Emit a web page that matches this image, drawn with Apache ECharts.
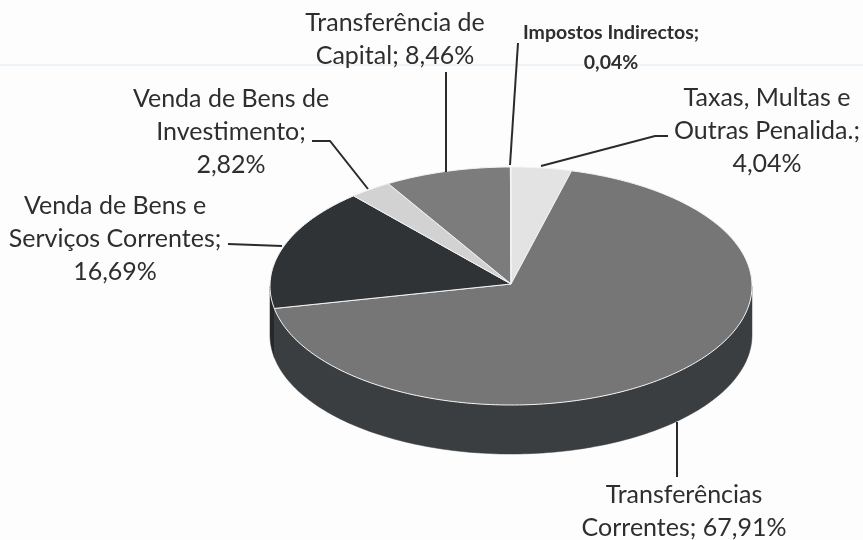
<!DOCTYPE html>
<html><head><meta charset="utf-8">
<style>html,body{margin:0;padding:0;background:#fff}#c{width:863px;height:540px}</style>
<script src="https://cdn.jsdelivr.net/npm/echarts@6/dist/echarts.min.js"></script>
</head><body><div id="c"></div>
<script>
const categories = ['Taxas, Multas e\nOutras Penalida.', 'Transferências\nCorrentes', 'Venda de Bens e\nServiços Correntes', 'Venda de Bens de\nInvestimento', 'Transferência de\nCapital', 'Impostos Indirectos'];
const values = [4.04, 67.91, 16.69, 2.82, 8.46, 0.04];
const valueLabels = ['4,04%', '67,91%', '16,69%', '2,82%', '8,46%', '0,04%'];
const labelBreaks = ['\n', ' ', '\n', '\n', ' ', '\n'];

const topColors = ['#e3e3e3', '#767676', '#2f3336', '#d2d2d2', '#7c7c7c', '#e8e8e8'];
const sideColors = ['#9a9a9a', '#3b3e40', '#26292b', '#8a8a8a', '#4a4a4a', '#999999'];
const PIE = { cx: 511, cy: 286, rx: 241, ry: 119, depth: 49 };
const labelPos = [[767, 131], [684, 511], [115, 239], [231, 132], [395, 39], [611, 48]];
const labelSize = [25, 25, 25, 25, 25, 19.5];
const leaders = [
  [[541, 166], [655, 136], [668, 136]],
  [[677, 422], [677, 477]],
  [[228, 244], [282, 246]],
  [[312, 141], [330, 141], [368, 189]],
  [[446, 72], [446, 172]],
  [[518, 43], [510, 165]]
];

const total = values.reduce((a, b) => a + b, 0);
function startAngle(i) {
  let s = 0;
  for (let k = 0; k < i; k++) s += values[k];
  return s / total * Math.PI * 2;
}
function pt(a, dy) {
  return [PIE.cx + PIE.rx * Math.sin(a), PIE.cy - PIE.ry * Math.cos(a) + (dy || 0)];
}
function arc(a0, a1, dy) {
  const n = Math.max(2, Math.ceil((a1 - a0) / 0.02));
  const out = [];
  for (let k = 0; k <= n; k++) out.push(pt(a0 + (a1 - a0) * k / n, dy));
  return out;
}
const seriesData = values.map((v, i) => ({ name: categories[i], value: v }));

function renderSide(params, api) {
  const i = params.dataIndex;
  const a0 = Math.max(startAngle(i), Math.PI / 2);
  const a1 = Math.min(startAngle(i) + api.value(0) / total * Math.PI * 2, Math.PI * 1.5);
  if (a1 <= a0) return { type: 'group', children: [] };
  const pts = arc(a0, a1, 0).concat(arc(a0, a1, PIE.depth).reverse());
  return { type: 'polygon', shape: { points: pts }, style: { fill: sideColors[i], stroke: sideColors[i], lineWidth: 0.5 } };
}
function renderTop(params, api) {
  const i = params.dataIndex;
  const a0 = startAngle(i);
  const a1 = a0 + api.value(0) / total * Math.PI * 2;
  const pts = [[PIE.cx, PIE.cy - 2]].concat(arc(a0, a1, 0));
  return { type: 'polygon', shape: { points: pts }, style: { fill: topColors[i], stroke: '#f4f4f4', lineWidth: 1 } };
}
function renderLabel(params) {
  const i = params.dataIndex;
  const small = labelSize[i] < 20;
  return {
    type: 'group',
    children: [
      { type: 'polyline', shape: { points: leaders[i] }, style: { fill: 'none', stroke: '#2b2b2b', lineWidth: 2 } },
      { type: 'text', style: {
        text: categories[i] + ';' + labelBreaks[i] + valueLabels[i],
        x: labelPos[i][0], y: labelPos[i][1], align: 'center', verticalAlign: 'middle',
        fontFamily: 'Lato', fontSize: labelSize[i], lineHeight: small ? 30 : 33,
        fontWeight: small ? 'bold' : 'normal', fill: '#2e2e2e'
      } }
    ]
  };
}
const chart = echarts.init(document.getElementById('c'), null, { renderer: 'canvas' });
chart.setOption({
  animation: false,
  backgroundColor: '#fdfdfd',
  graphic: [
    { type: 'line', z: -1, shape: { x1: 0, y1: 65, x2: 863, y2: 65 }, style: { stroke: '#eef3f7', lineWidth: 2 } }
  ],
  series: [
    { type: 'custom', coordinateSystem: 'none', renderItem: renderSide, data: seriesData, silent: true, z: 1 },
    { type: 'custom', coordinateSystem: 'none', renderItem: renderTop, data: seriesData, silent: true, z: 2 },
    { type: 'custom', coordinateSystem: 'none', renderItem: renderLabel, data: seriesData, silent: true, z: 3 }
  ]
});
</script></body></html>
